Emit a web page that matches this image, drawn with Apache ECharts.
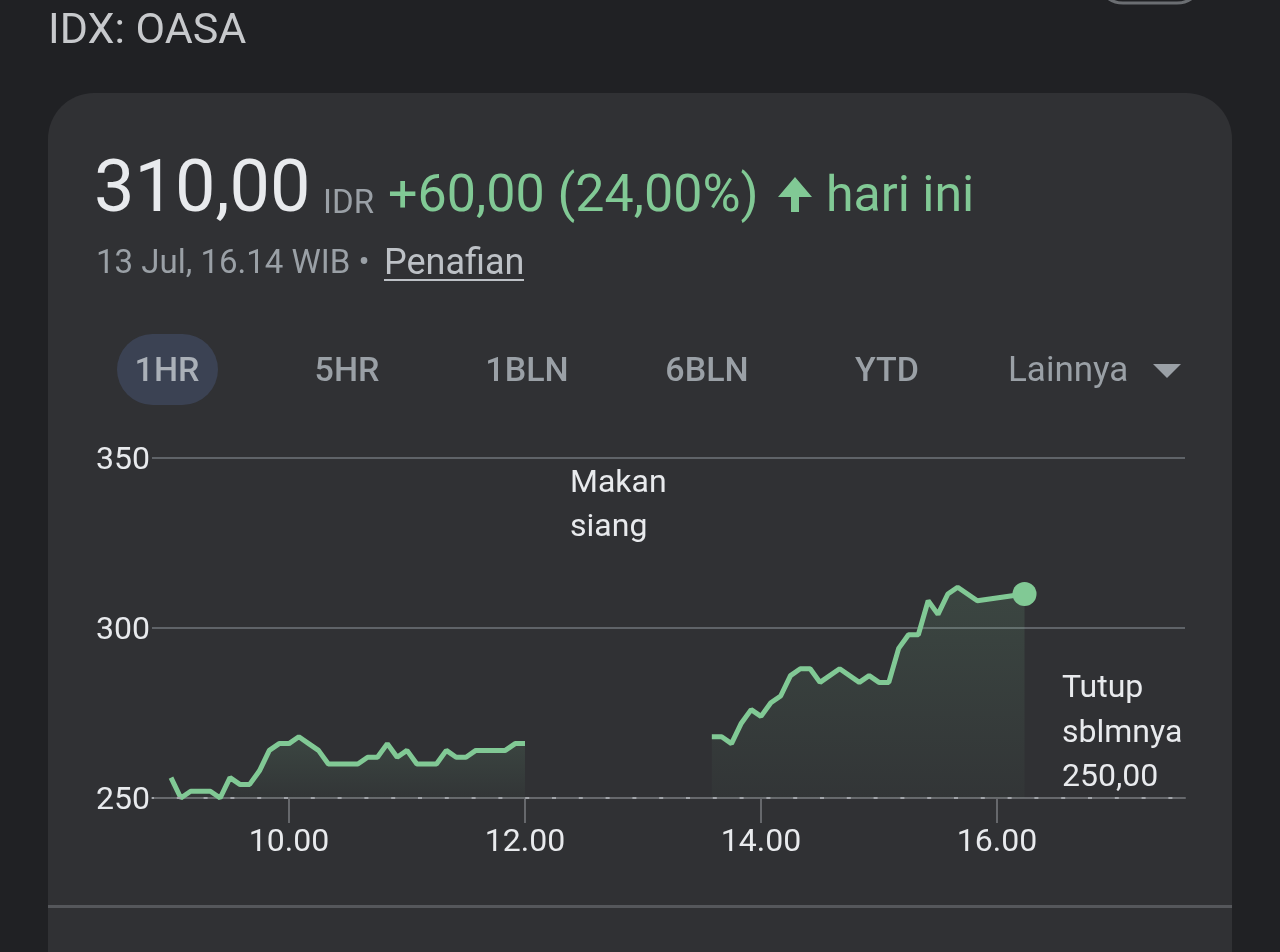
<!DOCTYPE html>
<html>
<head>
<meta charset="utf-8">
<script src="https://cdn.jsdelivr.net/npm/echarts@6/dist/echarts.min.js"></script>
<style>
html, body { margin: 0; padding: 0; background: #202124; }
#chart { width: 1280px; height: 952px; }
</style>
</head>
<body>
<div id="chart"></div>
<script>
// sesi pagi (5 menit)
var sesi1Jam = ['09.00', '09.05', '09.10', '09.20', '09.25', '09.30', '09.35', '09.40', '09.45', '09.50',
    '09.55', '10.00', '10.05', '10.10', '10.15', '10.20', '10.35', '10.40', '10.45', '10.50',
    '10.55', '11.00', '11.05', '11.15', '11.20', '11.25', '11.30', '11.35', '11.50', '11.55', '12.00'];
var sesi1Harga = [256, 250, 252, 252, 250, 256, 254, 254, 258, 264,
    266, 266, 268, 266, 264, 260, 260, 262, 262, 266,
    262, 264, 260, 260, 264, 262, 262, 264, 264, 266, 266];

// sesi siang
var sesi2Jam = ['13.35', '13.40', '13.45', '13.50', '13.55', '14.00', '14.05', '14.10', '14.15', '14.20',
    '14.25', '14.30', '14.40', '14.50', '14.55', '15.00', '15.05', '15.10', '15.15', '15.20',
    '15.25', '15.30', '15.35', '15.40', '15.50', '16.14'];
var sesi2Harga = [268, 268, 266, 272, 276, 274, 278, 280, 286, 288,
    288, 284, 288, 284, 286, 284, 284, 294, 298, 298,
    308, 304, 310, 312, 308, 310];

var jamLabel = ['10.00', '12.00', '14.00', '16.00'];
var tutupSebelumnya = 250;

function menit(s) {
    var p = s.split('.');
    return (+p[0]) * 60 + (+p[1]);
}
function pasangkan(jam, harga) {
    return jam.map(function (j, k) { return [menit(j), harga[k]]; });
}

var hijau = '#81c995';
var isian = new echarts.graphic.LinearGradient(0, 0, 0, 1, [
    { offset: 0, color: 'rgba(129,201,149,0.2)' },
    { offset: 1, color: 'rgba(129,201,149,0.04)' }
]);
var font = 'Roboto, "Noto Sans", sans-serif';

var myChart = echarts.init(document.getElementById('chart'));

option = {
    backgroundColor: '#202124',
    animation: false,
    textStyle: { fontFamily: font },
    grid: { left: 152, right: 95, top: 458, bottom: 154 },
    xAxis: {
        type: 'value',
        min: 530.34,
        max: 1055.6,
        splitLine: { show: false },
        axisLine: { show: true, lineStyle: { color: '#66686c', width: 2 } },
        axisTick: {
            show: true,
            length: 25,
            customValues: jamLabel.map(menit),
            lineStyle: { color: '#66686c', width: 2 }
        },
        axisLabel: {
            customValues: jamLabel.map(menit),
            margin: 29,
            color: '#e8eaed',
            fontSize: 32,
            fontFamily: font,
            formatter: function (v) {
                var h = Math.floor(v / 60);
                return (h < 10 ? '0' + h : h) + '.00';
            }
        }
    },
    yAxis: {
        type: 'value',
        min: 250,
        max: 350,
        interval: 50,
        axisLine: { show: false },
        axisTick: { show: false },
        splitLine: { lineStyle: { color: '#5f6368', width: 2 } },
        axisLabel: {
            align: 'left',
            margin: 56,
            color: '#e8eaed',
            fontSize: 32,
            fontFamily: font,
            formatter: '{a|{value}}',
            rich: { a: { fontSize: 32, fontFamily: font, color: '#e8eaed', padding: [6, 0, 0, 0] } }
        }
    },
    series: [{
        type: 'line',
        data: pasangkan(sesi1Jam, sesi1Harga),
        showSymbol: false,
        lineStyle: { color: hijau, width: 5 },
        areaStyle: { origin: 'start', color: isian },
        markLine: {
            silent: true,
            symbol: 'none',
            label: { show: false },
            lineStyle: { color: '#a3a6ab', width: 2, type: [4, 22.8], dashOffset: 2 },
            data: [{ yAxis: tutupSebelumnya }]
        },
        z: 3
    }, {
        type: 'line',
        data: pasangkan(sesi2Jam, sesi2Harga),
        showSymbol: false,
        lineStyle: { color: hijau, width: 5 },
        areaStyle: { origin: 'start', color: isian },
        z: 3
    }, {
        type: 'scatter',
        data: [[menit(sesi2Jam[sesi2Jam.length - 1]), sesi2Harga[sesi2Harga.length - 1]]],
        symbolSize: 24,
        itemStyle: { color: hijau, opacity: 1 },
        z: 5
    }],
    graphic: [
        // kartu
        { type: 'rect', z: -10, shape: { x: 48, y: 93, width: 1184, height: 940, r: 46 }, style: { fill: '#303134' } },
        { type: 'rect', z: -9, shape: { x: 48, y: 905, width: 1184, height: 3 }, style: { fill: '#55575b' } },
        { type: 'rect', z: -9, shape: { x: 1097, y: -50, width: 106, height: 53, r: 26 }, style: { fill: 'none', stroke: '#6b6e72', lineWidth: 3 } },
        { type: 'text', z: 10, style: { text: 'IDX: OASA', x: 48, y: 32, font: '43px ' + font, fill: '#c7c9cc', textVerticalAlign: 'middle' } },
        { type: 'text', z: 10, style: { text: '310,00', x: 94, y: 193, font: '72px ' + font, fill: '#e8eaed', textVerticalAlign: 'middle' } },
        { type: 'text', z: 10, style: { text: 'IDR', x: 323, y: 205, font: '33px ' + font, fill: '#9aa0a6', textVerticalAlign: 'middle' } },
        { type: 'text', z: 10, style: { text: '+60,00 (24,00%)', x: 388, y: 198, font: '52px ' + font, fill: hijau, textVerticalAlign: 'middle' } },
        { type: 'polygon', z: 10, shape: { points: [[778, 197], [795, 177], [812, 197], [799, 197], [799, 212], [791, 212], [791, 197]] }, style: { fill: hijau } },
        { type: 'text', z: 10, style: { text: 'hari ini', x: 826, y: 198, font: '50px ' + font, fill: hijau, textVerticalAlign: 'middle' } },
        { type: 'text', z: 10, style: { text: '13 Jul, 16.14 WIB \u2022 ', x: 96, y: 265, font: '33px ' + font, fill: '#9aa0a6', textVerticalAlign: 'middle' } },
        { type: 'text', z: 10, style: { text: 'Penafian', x: 384, y: 265, font: '36px ' + font, fill: '#bdc1c6', textVerticalAlign: 'middle' } },
        { type: 'rect', z: 10, shape: { x: 384, y: 279, width: 140, height: 2 }, style: { fill: '#bdc1c6' } },
        // tombol rentang
        { type: 'rect', z: 9, shape: { x: 117, y: 334, width: 101, height: 71, r: 35.5 }, style: { fill: '#3b4253' } },
        { type: 'text', z: 10, style: { text: '1HR', x: 167, y: 372, font: '500 34px ' + font, fill: '#aab0b8', textAlign: 'center', textVerticalAlign: 'middle' } },
        { type: 'text', z: 10, style: { text: '5HR', x: 347, y: 372, font: '500 34px ' + font, fill: '#9aa0a6', textAlign: 'center', textVerticalAlign: 'middle' } },
        { type: 'text', z: 10, style: { text: '1BLN', x: 527, y: 372, font: '500 34px ' + font, fill: '#9aa0a6', textAlign: 'center', textVerticalAlign: 'middle' } },
        { type: 'text', z: 10, style: { text: '6BLN', x: 707, y: 372, font: '500 34px ' + font, fill: '#9aa0a6', textAlign: 'center', textVerticalAlign: 'middle' } },
        { type: 'text', z: 10, style: { text: 'YTD', x: 887, y: 372, font: '500 34px ' + font, fill: '#9aa0a6', textAlign: 'center', textVerticalAlign: 'middle' } },
        { type: 'text', z: 10, style: { text: 'Lainnya', x: 1008, y: 372, font: '35px ' + font, fill: '#9aa0a6', textVerticalAlign: 'middle' } },
        { type: 'polygon', z: 10, shape: { points: [[1153, 364], [1181, 364], [1167, 378]] }, style: { fill: '#9aa0a6' } },
        // catatan grafik
        { type: 'text', z: 10, style: { text: 'Makan\nsiang', x: 570, y: 462, font: '32px ' + font, lineHeight: 44, fill: '#e8eaed' } },
        { type: 'text', z: 10, style: { text: 'Tutup\nsblmnya\n250,00', x: 1062, y: 667, font: '32px ' + font, lineHeight: 44.5, fill: '#e8eaed' } }
    ]
};

myChart.setOption(option);
</script>
</body>
</html>
